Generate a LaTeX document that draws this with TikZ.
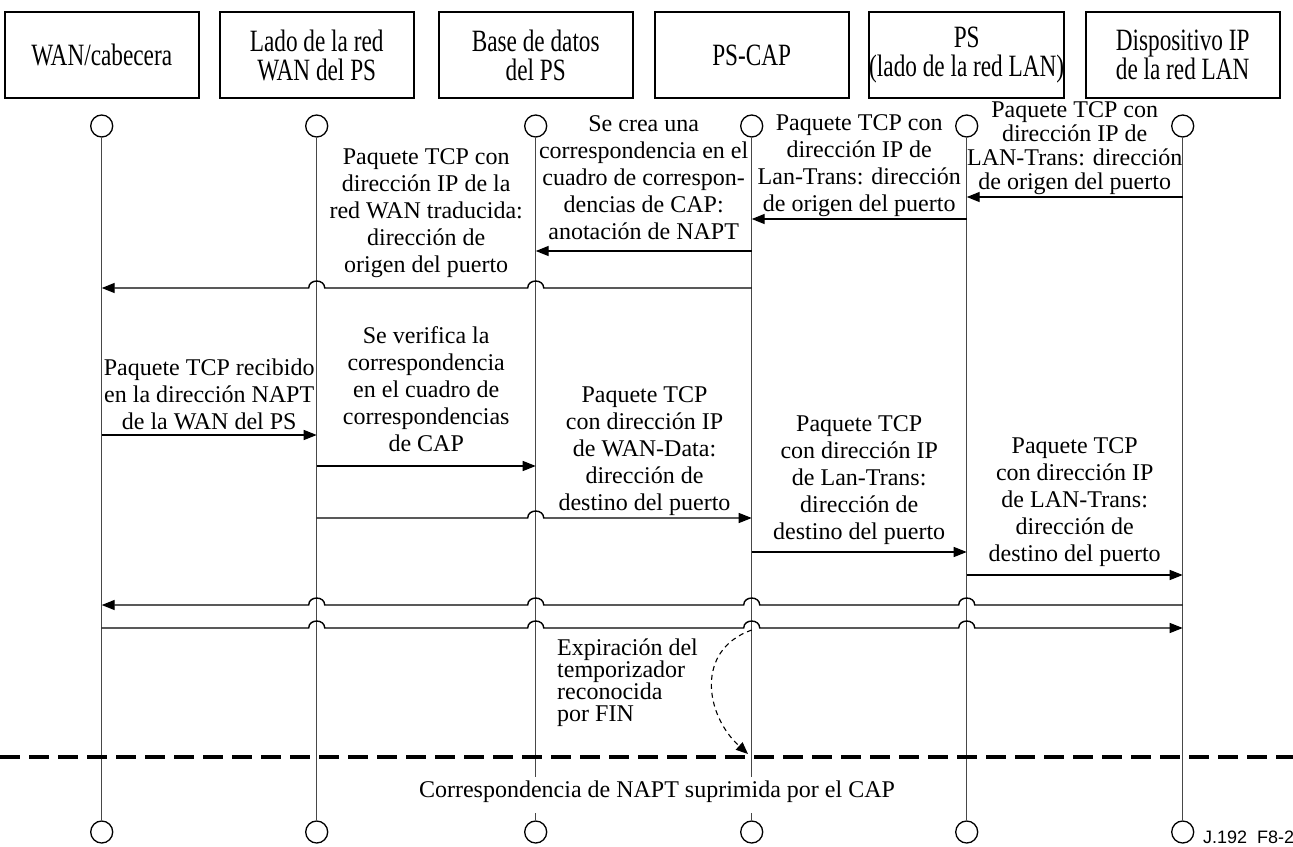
\documentclass[tikz,border=0pt]{standalone}
\usepackage{fontspec}
\setmainfont{Liberation Serif}
\newfontfamily\hdrfont[FakeStretch=0.75]{Liberation Serif}
\newfontfamily\tagfont{Liberation Sans}
\usetikzlibrary{arrows.meta,calc}

% lifeline positions
\def\xa{101.7}\def\xb{316.7}\def\xc{535.7}\def\xd{751.7}\def\xe{966.7}\def\xf{1182.7}
% jump-over bumps where a message crosses a lifeline (rightward / leftward)
\newcommand\hopR[2]{-- ({#1-8},#2) .. controls ({#1-8},{#2-9.3}) and ({#1+8},{#2-9.3}) .. ({#1+8},#2)}
\newcommand\hopL[2]{-- ({#1+8},#2) .. controls ({#1+8},{#2-9.3}) and ({#1-8},{#2-9.3}) .. ({#1-8},#2)}

\begin{document}
\begin{tikzpicture}[x=1pt,y=-1pt,
  header/.style={draw, line width=1.6pt, minimum width=194pt, minimum height=86pt,
    inner sep=0pt, align=center, font=\hdrfont\fontsize{31}{29}\selectfont},
  endpt/.style={circle, draw, line width=1.3pt, minimum size=22pt, inner sep=0pt, fill=white},
  life/.style={line width=1.4pt, draw=black!72},
  msgline/.style={line width=1.4pt},
  msg/.style={msgline, -{Triangle[length=13pt,width=10pt]}},
  lbl/.style={align=center, inner sep=0pt, anchor=south, font=\fontsize{24}{27}\selectfont},
]
\useasboundingbox (0,0) rectangle (1293,846);

% participants
\node[header] (h1) at (\xa,55) {WAN/cabecera};
\node[header] (h2) at (\xb,55) {Lado de la red\\WAN del PS};
\node[header] (h3) at (\xc,55) {Base de datos\\del PS};
\node[header] (h4) at (\xd,55) {PS-CAP};
\node[header] (h5) at (\xe,55) {PS\\(lado de la red LAN)};
\node[header] (h6) at (\xf,55) {Dispositivo IP\\de la red LAN};

% lifeline end points
\foreach \i/\x in {1/\xa,2/\xb,3/\xc,4/\xd,5/\xe,6/\xf}{
  \node[endpt] (t\i) at (\x,126) {};
  \node[endpt] (b\i) at (\x,832) {};
}
\foreach \i in {1,...,6}{ \draw[life] (t\i) -- (b\i); }

% messages
\draw[msg] (t6 |- 0,197) -- (t5 |- 0,197);
\draw[msg] (t5 |- 0,219) -- (t4 |- 0,219);
\draw[msg] (t4 |- 0,251) -- (t3 |- 0,251);
\draw[msg] (t4 |- 0,288) \hopL{\xc}{288} \hopL{\xb}{288} -- (t1 |- 0,288);
\draw[msg] (t1 |- 0,435) -- (t2 |- 0,435);
\draw[msg] (t2 |- 0,466) -- (t3 |- 0,466);
\draw[msg] (t2 |- 0,518) \hopR{\xc}{518} -- (t4 |- 0,518);
\draw[msg] (t4 |- 0,552) -- (t5 |- 0,552);
\draw[msg] (t5 |- 0,575) -- (t6 |- 0,575);
\draw[msg] (t6 |- 0,605) \hopL{\xe}{605} \hopL{\xd}{605} \hopL{\xc}{605} \hopL{\xb}{605} -- (t1 |- 0,605);
\draw[msg] (t1 |- 0,628) \hopR{\xb}{628} \hopR{\xc}{628} \hopR{\xd}{628} \hopR{\xe}{628} -- (t6 |- 0,628);

% message labels
\node[lbl, font=\fontsize{24}{24}\selectfont] (l1) at (1074.7,197.2)
  {Paquete TCP con\\dirección IP de\\LAN-Trans: dirección\\de origen del puerto\strut};
\node[lbl] (l2) at (859.2,220.1)
  {Paquete TCP con\\dirección IP de\\Lan-Trans: dirección\\de origen del puerto\strut};
\node[lbl] (l3) at (643.7,248.1)
  {Se crea una\\correspondencia en el\\cuadro de correspon-\\dencias de CAP:\\anotación de NAPT\strut};
\node[lbl] (l4) at (426.2,281.1)
  {Paquete TCP con\\dirección IP de la\\red WAN traducida:\\dirección de\\origen del puerto\strut};
\node[lbl] (l5) at (209.2,438.1)
  {Paquete TCP recibido\\en la dirección NAPT\\de la WAN del PS\strut};
\node[lbl] (l6) at (426.2,460.1)
  {Se verifica la\\correspondencia\\en el cuadro de\\correspondencias\\de CAP\strut};
\node[lbl] (l7) at (644.5,519.1)
  {Paquete TCP\\con dirección IP\\de WAN-Data:\\dirección de\\destino del puerto\strut};
\node[lbl] (l8) at (859.2,548.1)
  {Paquete TCP\\con dirección IP\\de Lan-Trans:\\dirección de\\destino del puerto\strut};
\node[lbl] (l9) at (1074.7,570.1)
  {Paquete TCP\\con dirección IP\\de LAN-Trans:\\dirección de\\destino del puerto\strut};

% timer expiry
\node[lbl, anchor=south west, align=left, font=\fontsize{24}{22}\selectfont] (exp) at (557,728.6)
  {Expiración del\\temporizador\\reconocida\\por FIN\strut};
\coordinate (fin) at (748,754);
\draw[line width=1.1pt, dash pattern=on 5pt off 4pt, -{Triangle[length=12pt,width=10pt]}]
  (t4 |- 0,630) .. controls (695,650) and (705,715) .. (fin);

% deletion of the mapping
\draw[line width=3.4pt, dash pattern=on 20pt off 9pt] (0,757) -- (1293,757);
\node[fill=white, inner xsep=3pt, inner ysep=0pt, text height=20pt, text depth=16pt,
  anchor=base, font=\fontsize{24}{27}\selectfont] (del) at (657,797)
  {Correspondencia de NAPT suprimida por el CAP};

% figure tag
\node[anchor=base west, inner sep=0pt, font=\tagfont\fontsize{18}{20}\selectfont] (tag) at (1203,843)
  {J.192\hspace{0.55em}F8-2};
\end{tikzpicture}
\end{document}
